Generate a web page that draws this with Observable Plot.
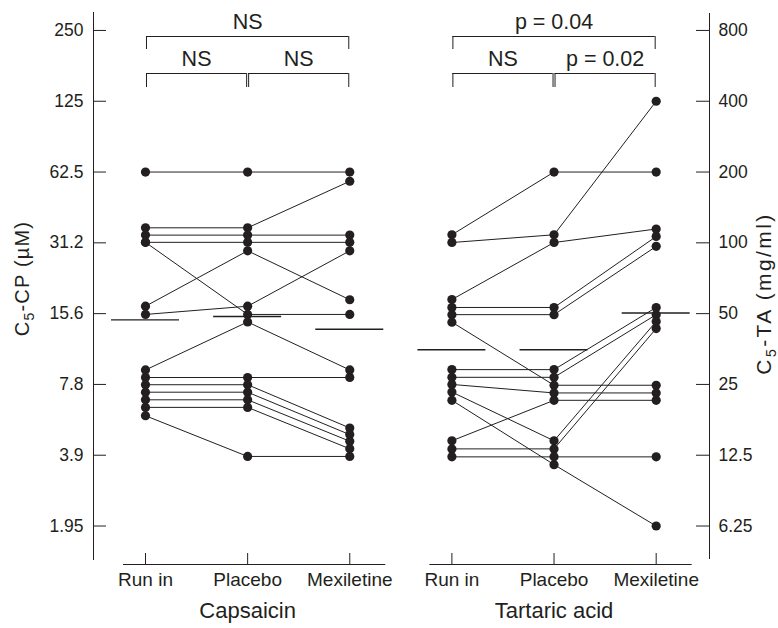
<!DOCTYPE html>
<html>
<head>
<meta charset="utf-8">
<script src="https://cdn.jsdelivr.net/npm/d3@7"></script>
<script src="https://cdn.jsdelivr.net/npm/@observablehq/plot@0.6"></script>
<style>
  html, body { margin: 0; padding: 0; background: #fff; }
  #chart svg { display: block; }
</style>
</head>
<body>
<div id="chart"></div>
<script>
// ---------- data ----------
const panels = ["Capsaicin", "Tartaric acid"];
const treatments = ["Run in", "Placebo", "Mexiletine"];

// Capsaicin: C5-CP (µM), one entry per subject
const capRunIn      = [62.5, 36.2, 33.7, 31.4, 31.4, 16.8, 15.5, 9.0, 8.36, 7.79, 7.24, 6.72, 6.24, 5.75];
const capPlacebo    = [62.5, 36.2, 33.7, 31.4, 15.5, 28.9, 16.8, 14.4, 8.36, 7.79, 7.24, 6.72, 6.24, 3.86];
const capMexiletine = [62.5, 57.1, 33.7, 31.4, 15.5, 17.9, 28.9, 9.0, 8.36, 5.10, 4.78, 4.48, 4.16, 3.86];

// Tartaric acid: C5-TA (mg/ml), one entry per subject
const taRunIn      = [108.2, 100.3, 57.4, 53.1, 49.5, 46.0, 28.9, 26.8, 25.0, 23.2, 21.4, 14.4, 13.3, 12.3];
const taPlacebo    = [200, 108.2, 100.3, 53.1, 49.5, 24.8, 28.9, 26.8, 23.0, 14.4, 11.4, 21.4, 13.3, 12.3];
const taMexiletine = [200, 400, 114.5, 106.4, 96.6, 24.8, 53.1, 49.5, 23.0, 46.3, 6.25, 21.4, 43.2, 12.3];

// group means (horizontal bars)
const capMeans = [14.7, 15.2, 13.4];
const taMeans = [35.1, 35.1, 50.3];

// axis ticks
const leftTicks = [1.953125, 3.90625, 7.8125, 15.625, 31.25, 62.5, 125, 250];
const leftTickLabels = ["1.95", "3.9", "7.8", "15.6", "31.2", "62.5", "125", "250"];
const rightTicks = [6.25, 12.5, 25, 50, 100, 200, 400, 800];
const rightTickLabels = ["6.25", "12.5", "25", "50", "100", "200", "400", "800"];

// significance brackets: [from, to] treatment indices and labels
const comparisons = [[0, 2], [0, 1], [1, 2]];
const comparisonLevels = [0, 1, 1];
const capTests = ["NS", "NS", "NS"];
const taTests = ["p = 0.04", "NS", "p = 0.02"];

const leftTitle = "C5-CP (µM)";
const rightTitle = "C5-TA (mg/ml)";

// ---------- derived tables ----------
const ratio = rightTicks[rightTicks.length - 1] / leftTicks[leftTicks.length - 1]; // mg/ml per µM on the shared scale
const series = [[capRunIn, capPlacebo, capMexiletine], [taRunIn, taPlacebo, taMexiletine]];
const conv = (p, v) => (p === 0 ? v : v / ratio);

const rows = [];
series.forEach((ser, p) => ser.forEach((vals, t) => vals.forEach((v, s) =>
  rows.push({subject: `${p}-${s}`, x: p * 3 + t, y: conv(p, v)}))));

const meanRows = [];
[capMeans, taMeans].forEach((m, p) => m.forEach((v, t) => meanRows.push({x: p * 3 + t, y: conv(p, v)})));

const brackets = [];
[capTests, taTests].forEach((tests, p) => tests.forEach((label, c) =>
  brackets.push({x1: p * 3 + comparisons[c][0], x2: p * 3 + comparisons[c][1], level: comparisonLevels[c], label})));
const legs = brackets.flatMap(b => [{x: b.x1, level: b.level, side: 1}, {x: b.x2, level: b.level, side: -1}]);

const panelRows = panels.map((name, p) => ({name, x1: p * 3, x2: p * 3 + 2, mid: p * 3 + 1}));
const rightTickPos = rightTicks.map(v => v / ratio);

// ---------- plot ----------
const ink = "#231f20";
const xDomain = [-0.509, 5.522];
const yDomain = [1.34, 298];
const H = 628, mt = 12, mb = 64;
const bottomRule = 564;

const chart = Plot.plot({
  width: 778,
  height: H,
  marginTop: mt,
  marginBottom: mb,
  marginLeft: 93,
  marginRight: 69,
  style: {fontFamily: "'Liberation Sans', Arial, Helvetica, sans-serif", fontSize: "17px", color: ink, background: "#fff"},
  x: {type: "linear", domain: xDomain, axis: null},
  y: {type: "log", domain: yDomain, axis: null},
  marks: [
    // axis lines
    Plot.frame({anchor: "left", stroke: ink, insetBottom: 5}),
    Plot.frame({anchor: "right", stroke: ink, insetBottom: 6, insetTop: 1}),
    Plot.ruleY(panelRows, {x1: "x1", x2: "x2", y: () => yDomain[0], stroke: ink, insetLeft: -22, insetRight: -36}),
    // y ticks (inward) and labels
    Plot.ruleY(leftTicks, {y: d => d, x1: () => xDomain[0], x2: () => xDomain[0], insetRight: -13, stroke: ink}),
    Plot.text(leftTicks, {y: d => d, frameAnchor: "left", dx: -10, textAnchor: "end", lineAnchor: "middle",
      text: (d, i) => leftTickLabels[i], fontSize: 17.5, fill: ink}),
    Plot.ruleY(rightTickPos, {y: d => d, x1: () => xDomain[1], x2: () => xDomain[1], insetLeft: -13, stroke: ink}),
    Plot.text(rightTickPos, {y: d => d, frameAnchor: "right", dx: 9, textAnchor: "start", lineAnchor: "middle",
      text: (d, i) => rightTickLabels[i], fontSize: 17.5, fill: ink}),
    // x ticks (upward) and labels
    Plot.axisX({anchor: "bottom", ticks: d3.range(6), tickSize: 11, dy: -11, tickFormat: () => "", label: null, stroke: ink}),
    Plot.axisX({anchor: "bottom", ticks: d3.range(6), tickSize: 0, tickPadding: 8, label: null, fill: ink, fontSize: 19,
      tickFormat: i => treatments[i % 3]}),
    // panel titles
    Plot.text(panelRows, {x: "mid", frameAnchor: "bottom", lineAnchor: "middle", dy: 46, text: "name", fontSize: 22, fill: ink}),
    // axis titles
    Plot.text([leftTitle], {frameAnchor: "left", textAnchor: "middle", lineAnchor: "middle", dx: -71, dy: -10, rotate: -90, text: d => d, fontSize: 20, fill: ink}),
    Plot.text([rightTitle], {frameAnchor: "right", textAnchor: "middle", lineAnchor: "middle", dx: 55, dy: 5, rotate: -90, text: d => d, fontSize: 21, fill: ink}),
    // significance brackets
    Plot.ruleY(brackets, {filter: d => d.level === 0, x1: "x1", x2: "x2", y: () => yDomain[1], dy: 24, insetLeft: 1, insetRight: 1, stroke: ink}),
    Plot.ruleY(brackets, {filter: d => d.level === 1, x1: "x1", x2: "x2", y: () => yDomain[1], dy: 61, insetLeft: 1, insetRight: 1, stroke: ink}),
    Plot.ruleX(legs, {filter: d => d.level === 0 && d.side > 0, x: "x", dx: 1, insetTop: 24, insetBottom: bottomRule - 49, stroke: ink}),
    Plot.ruleX(legs, {filter: d => d.level === 0 && d.side < 0, x: "x", dx: -1, insetTop: 24, insetBottom: bottomRule - 49, stroke: ink}),
    Plot.ruleX(legs, {filter: d => d.level === 1 && d.side > 0, x: "x", dx: 1, insetTop: 61, insetBottom: bottomRule - 87, stroke: ink}),
    Plot.ruleX(legs, {filter: d => d.level === 1 && d.side < 0, x: "x", dx: -1, insetTop: 61, insetBottom: bottomRule - 87, stroke: ink}),
    Plot.text(brackets, {filter: d => d.level === 0, x: d => (d.x1 + d.x2) / 2, frameAnchor: "top", lineAnchor: "middle", dy: 10, text: "label", fontSize: 21.5, fill: ink}),
    Plot.text(brackets, {filter: d => d.level === 1, x: d => (d.x1 + d.x2) / 2, frameAnchor: "top", lineAnchor: "middle", dy: 47, text: "label", fontSize: 21.5, fill: ink}),
    // data
    Plot.line(rows, {x: "x", y: "y", z: "subject", stroke: ink, strokeWidth: 1}),
    Plot.ruleY(meanRows, {x1: "x", x2: "x", y: "y", insetLeft: -34, insetRight: -34, stroke: ink, strokeWidth: 1.4}),
    Plot.dot(rows, {x: "x", y: "y", r: 4.6, fill: ink, stroke: null})
  ]
});

// subscript the "5" in the axis titles and widen their tracking
d3.select(chart).selectAll("text").filter(function () {
  return this.textContent === leftTitle || this.textContent === rightTitle;
}).each(function () {
  const t = d3.select(this);
  const s = this.textContent;
  t.style("letter-spacing", s === leftTitle ? "1.2px" : "2.4px");
  t.text(null);
  t.append("tspan").text(s.slice(0, 1));
  t.append("tspan").attr("dy", 5).attr("font-size", "14px").text(s.slice(1, 2));
  t.append("tspan").attr("dy", -5).text(s.slice(2));
});

document.getElementById("chart").appendChild(chart);
</script>
</body>
</html>
